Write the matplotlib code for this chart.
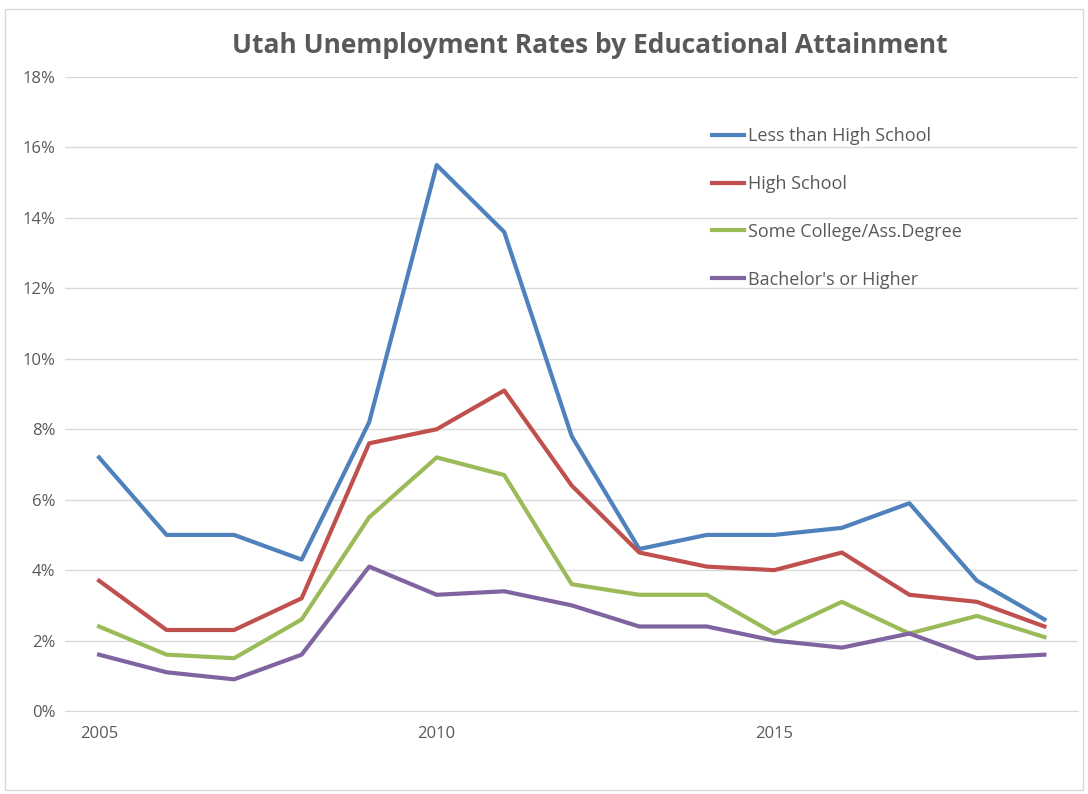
import matplotlib.pyplot as plt
from matplotlib.patches import Rectangle
from matplotlib.ticker import FuncFormatter

years = list(range(2005, 2020))
less_than_hs = [7.2, 5.0, 5.0, 4.3, 8.2, 15.5, 13.6, 7.8, 4.6, 5.0, 5.0, 5.2, 5.9, 3.7, 2.6]
high_school = [3.7, 2.3, 2.3, 3.2, 7.6, 8.0, 9.1, 6.4, 4.5, 4.1, 4.0, 4.5, 3.3, 3.1, 2.4]
some_college = [2.4, 1.6, 1.5, 2.6, 5.5, 7.2, 6.7, 3.6, 3.3, 3.3, 2.2, 3.1, 2.2, 2.7, 2.1]
bachelors = [1.6, 1.1, 0.9, 1.6, 4.1, 3.3, 3.4, 3.0, 2.4, 2.4, 2.0, 1.8, 2.2, 1.5, 1.6]

series = [
    ("Less than High School", less_than_hs, "#4F81BD"),
    ("High School", high_school, "#C0504D"),
    ("Some College/Ass.Degree", some_college, "#9BBB59"),
    ("Bachelor's or Higher", bachelors, "#8064A2"),
]

plt.rcParams['font.family'] = ['Open Sans', 'DejaVu Sans']
text_color = "#595959"

fig = plt.figure(figsize=(10.88, 7.94), dpi=100)
fig.patches.append(Rectangle((0.005, 0.005), 0.99, 0.984, transform=fig.transFigure,
                             fill=False, edgecolor="#D9D9D9", linewidth=1))
ax = fig.add_axes([0.06, 0.1045, 0.931, 0.7985])

for name, vals, col in series:
    ax.plot(years, vals, color=col, linewidth=3.0, label=name, solid_joinstyle='round')

ax.set_xlim(2004.5, 2019.5)
ax.set_ylim(0, 18)
ax.set_yticks(range(0, 19, 2))
ax.yaxis.set_major_formatter(FuncFormatter(lambda v, p: f"{v:.0f}%"))
ax.set_xticks([2005, 2010, 2015])
ax.grid(axis='y', color="#D9D9D9", linewidth=1)
ax.set_axisbelow(True)
for s in ['top', 'right', 'left']:
    ax.spines[s].set_visible(False)
ax.spines['bottom'].set_color("#D9D9D9")
ax.tick_params(axis='both', length=0, colors=text_color, labelsize=12)
ax.tick_params(axis='y', pad=7)
ax.tick_params(axis='x', pad=11)

fig.text(0.542, 0.943, "Utah Unemployment Rates by Educational Attainment",
         ha='center', va='center', fontsize=19, fontweight='bold', color=text_color)

leg = ax.legend(loc='upper left', bbox_to_anchor=(0.622, 0.947), frameon=False,
                fontsize=13, labelspacing=1.66, handlelength=1.8, handletextpad=0.2)
for t in leg.get_texts():
    t.set_color(text_color)

fig.savefig("out.png", dpi=100)
